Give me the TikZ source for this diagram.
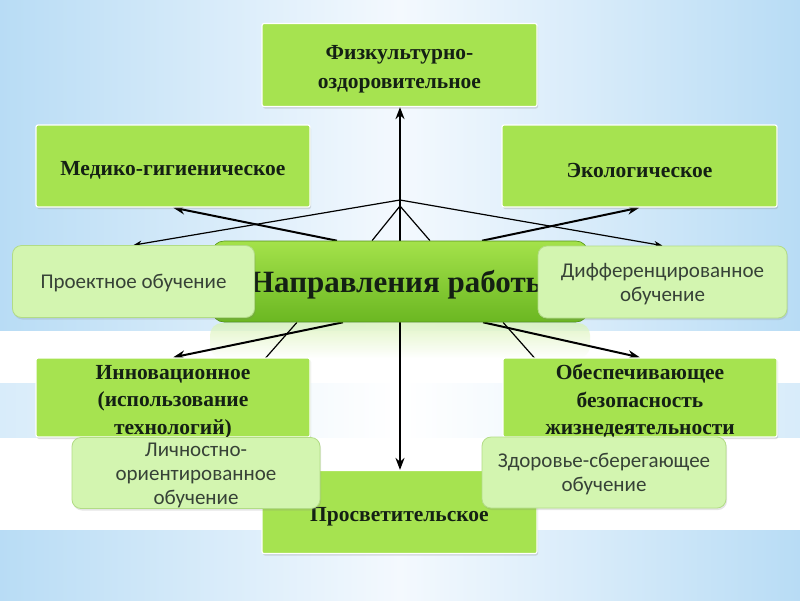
\documentclass[tikz,border=0pt]{standalone}
\usepackage{fontspec}
\setmainfont{Liberation Serif}
\newfontfamily\calfont{Carlito}
\usetikzlibrary{arrows.meta,shadows}
\definecolor{ink}{HTML}{142014}
\definecolor{lime}{HTML}{A6E350}
\definecolor{pale}{HTML}{D3F5B0}
\definecolor{paleedge}{HTML}{B2DC86}
\definecolor{sky}{HTML}{B8DCF5}
\definecolor{mist}{HTML}{F4F9FE}
\definecolor{deepgreen}{HTML}{6BB722}
\definecolor{topgreen}{HTML}{A4E24A}
\newcommand\dirgap{\rule{0pt}{23pt}}
\newcommand\methgap{\rule{0pt}{18pt}}
\pgfdeclarelayer{bg}
\pgfsetlayers{bg,main}

\begin{document}
\begin{tikzpicture}[x=1pt,y=-1pt,>=Stealth,
  dirbox/.style={fill=lime,draw=white,line width=1.2pt,rounded corners=2pt,
    minimum width=274pt,minimum height=82pt,inner xsep=2pt,inner ysep=-2pt,align=center,text=ink,
    font=\bfseries\fontsize{21.5}{27.5}\selectfont,
    drop shadow={opacity=.25,shadow xshift=1pt,shadow yshift=-2pt}},
  methbox/.style={fill=pale,draw=paleedge,line width=.8pt,rounded corners=9pt,
    minimum height=72pt,inner xsep=2pt,inner ysep=0pt,align=center,text=ink!85,
    font=\calfont\fontsize{21}{24}\selectfont,
    drop shadow={opacity=.2,shadow xshift=1pt,shadow yshift=-2pt}},
  link/.style={line width=1.2pt},
  mainlink/.style={->,line width=2pt}]
\useasboundingbox (0,0) rectangle (800,600);

% main node and the directions
\node[fill=deepgreen,draw=deepgreen!80!black,line width=.6pt,rounded corners=12pt,
  top color=topgreen,bottom color=deepgreen,minimum width=376pt,minimum height=81pt,
  font=\bfseries\fontsize{31}{36}\selectfont,text=ink] (cen) at (400,281.5) {\rule{0pt}{28pt}Направления работы};
\node[dirbox,minimum width=275pt,minimum height=83pt,font=\bfseries\fontsize{21.5}{29}\selectfont] (fiz) at (399.5,65) {\dirgap Физкультурно-\\оздоровительное};
\node[dirbox] (med) at (173,166) {\dirgap Медико-гигиеническое};
\node[dirbox,minimum width=275pt] (eco) at (639.5,166) {\dirgap Экологическое};
\node[dirbox,minimum height=79pt] (inn) at (173,397.5) {\dirgap Инновационное\\(использование\\технологий)};
\node[dirbox,minimum height=79pt] (obes) at (640,397.5) {\dirgap Обеспечивающее\\безопасность\\жизнедеятельности};
\node[dirbox,minimum width=275pt,minimum height=83pt] (pros) at (399.5,512) {\dirgap Просветительское};

% teaching methods
\node[methbox,minimum width=242pt] (proj) at (133.5,281.5) {\methgap Проектное обучение};
\node[methbox,minimum width=249pt] (diff) at (662.5,282) {\methgap Дифференцированное\\обучение};
\node[methbox,minimum width=248pt,minimum height=71pt] (lich) at (196,473) {\methgap Личностно-\\ориентированное\\обучение};
\node[methbox,minimum width=244pt,minimum height=71pt] (zdor) at (604,472.5) {\methgap Здоровье-сберегающее\\обучение};

\begin{pgfonlayer}{bg}
\shade[left color=sky,right color=sky,middle color=mist] (0,0) rectangle (800,331);
\fill[white] (0,331) rectangle (800,530);
\shade[left color=sky!55,right color=sky!55,middle color=white] (0,383) rectangle (800,437);
\shade[left color=sky,right color=sky,middle color=mist] (0,530) rectangle (800,600);
\shade[top color=lime!45!white,bottom color=white,rounded corners=12pt,opacity=.7] (210,323) rectangle (590,358);

\coordinate (apex) at (400,200);
\coordinate (fork) at (400,206);
\draw[mainlink] (cen.north) -- (cen.north |- fiz.south);
\draw[link,->] (apex) -- (proj.north);
\draw[link,->] (apex) -- (diff.north);
\draw[link] (fork) -- ([xshift=-28pt]cen.north);
\draw[link] (fork) -- ([xshift=30pt]cen.north);
\draw[mainlink] ([xshift=-63pt]cen.north) -- (med.south);
\draw[mainlink] ([xshift=82pt]cen.north) -- (eco.south);
\draw[mainlink] (cen.south) -- (cen.south |- pros.north);
\draw[mainlink] ([xshift=-57pt]cen.south) -- (inn.north);
\draw[mainlink] ([xshift=83pt]cen.south) -- (obes.north);
\draw[link] ([xshift=-103pt]cen.south) -- (lich.north);
\draw[link] ([xshift=103pt]cen.south) -- (zdor.north);
\end{pgfonlayer}
\end{tikzpicture}
\end{document}
